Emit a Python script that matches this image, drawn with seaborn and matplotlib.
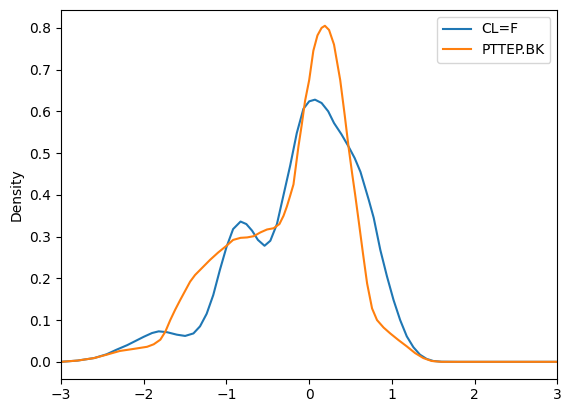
import pandas as pd
import numpy as np
import matplotlib
matplotlib.use("Agg")
import matplotlib.pyplot as plt
import seaborn as sns

# Density curves (x = return, y = density)
cl_x = [-3.0, -2.8, -2.6, -2.45, -2.33, -2.2, -2.1, -2.0, -1.9, -1.82, -1.72,
        -1.6, -1.5, -1.4, -1.32, -1.24, -1.16, -1.08, -1.0, -0.92, -0.83, -0.76,
        -0.69, -0.62, -0.54, -0.47, -0.39, -0.31, -0.23, -0.15, -0.07, 0.0,
        0.07, 0.15, 0.23, 0.3, 0.39, 0.475, 0.55, 0.62, 0.72, 0.78, 0.86, 0.94,
        1.02, 1.1, 1.18, 1.26, 1.34, 1.42, 1.5, 1.6, 1.8, 3.0]
cl_y = [0.000, 0.003, 0.009, 0.018, 0.029, 0.040, 0.050, 0.060, 0.069, 0.073,
        0.071, 0.065, 0.062, 0.068, 0.085, 0.115, 0.160, 0.220, 0.275, 0.318,
        0.336, 0.330, 0.314, 0.292, 0.278, 0.290, 0.330, 0.400, 0.470, 0.548,
        0.606, 0.624, 0.628, 0.620, 0.600, 0.572, 0.545, 0.516, 0.488, 0.455,
        0.388, 0.345, 0.268, 0.205, 0.148, 0.100, 0.061, 0.035, 0.017, 0.007,
        0.002, 0.0003, 0.000, 0.000]

ptt_x = [-3.0, -2.8, -2.6, -2.45, -2.29, -2.12, -1.96, -1.88, -1.8, -1.74,
         -1.68, -1.62, -1.56, -1.5, -1.44, -1.38, -1.32, -1.2, -1.1, -1.0,
         -0.92, -0.83, -0.75, -0.67, -0.59, -0.51, -0.43, -0.36, -0.31, -0.27,
         -0.23, -0.19, -0.13, -0.09, -0.05, 0.0, 0.05, 0.1, 0.15, 0.19, 0.24,
         0.3, 0.375, 0.43, 0.475, 0.52, 0.556, 0.6, 0.65, 0.7, 0.76, 0.82, 0.9,
         0.98, 1.08, 1.18, 1.28, 1.38, 1.48, 1.6, 3.0]
ptt_y = [0.000, 0.003, 0.009, 0.017, 0.026, 0.031, 0.036, 0.042, 0.053, 0.072,
         0.100, 0.125, 0.148, 0.170, 0.192, 0.208, 0.220, 0.244, 0.262, 0.278,
         0.292, 0.297, 0.298, 0.301, 0.310, 0.317, 0.320, 0.330, 0.350, 0.372,
         0.398, 0.425, 0.516, 0.568, 0.625, 0.675, 0.745, 0.782, 0.800, 0.805,
         0.795, 0.760, 0.675, 0.590, 0.516, 0.450, 0.400, 0.335, 0.260, 0.188,
         0.128, 0.100, 0.082, 0.068, 0.052, 0.037, 0.021, 0.009, 0.002, 0.000,
         0.000]

series_names = ["CL=F", "PTTEP.BK"]

df = pd.concat([
    pd.DataFrame({"x": cl_x, "Density": cl_y, "ticker": series_names[0]}),
    pd.DataFrame({"x": ptt_x, "Density": ptt_y, "ticker": series_names[1]}),
])

fig, ax = plt.subplots(figsize=(5.71, 4.13), dpi=100)
plt.subplots_adjust(left=0.107, right=0.976, top=0.976, bottom=0.083)

sns.lineplot(data=df, x="x", y="Density", hue="ticker", palette=["#1f77b4", "#ff7f0e"],
             linewidth=1.5, ax=ax)

ax.set_xlim(-3, 3)
ax.set_ylim(-0.0405, 0.843)
ax.set_xlabel("")
ax.set_ylabel("Density")
ax.legend(loc="upper right")

plt.savefig("out.png", dpi=100)
plt.close()
